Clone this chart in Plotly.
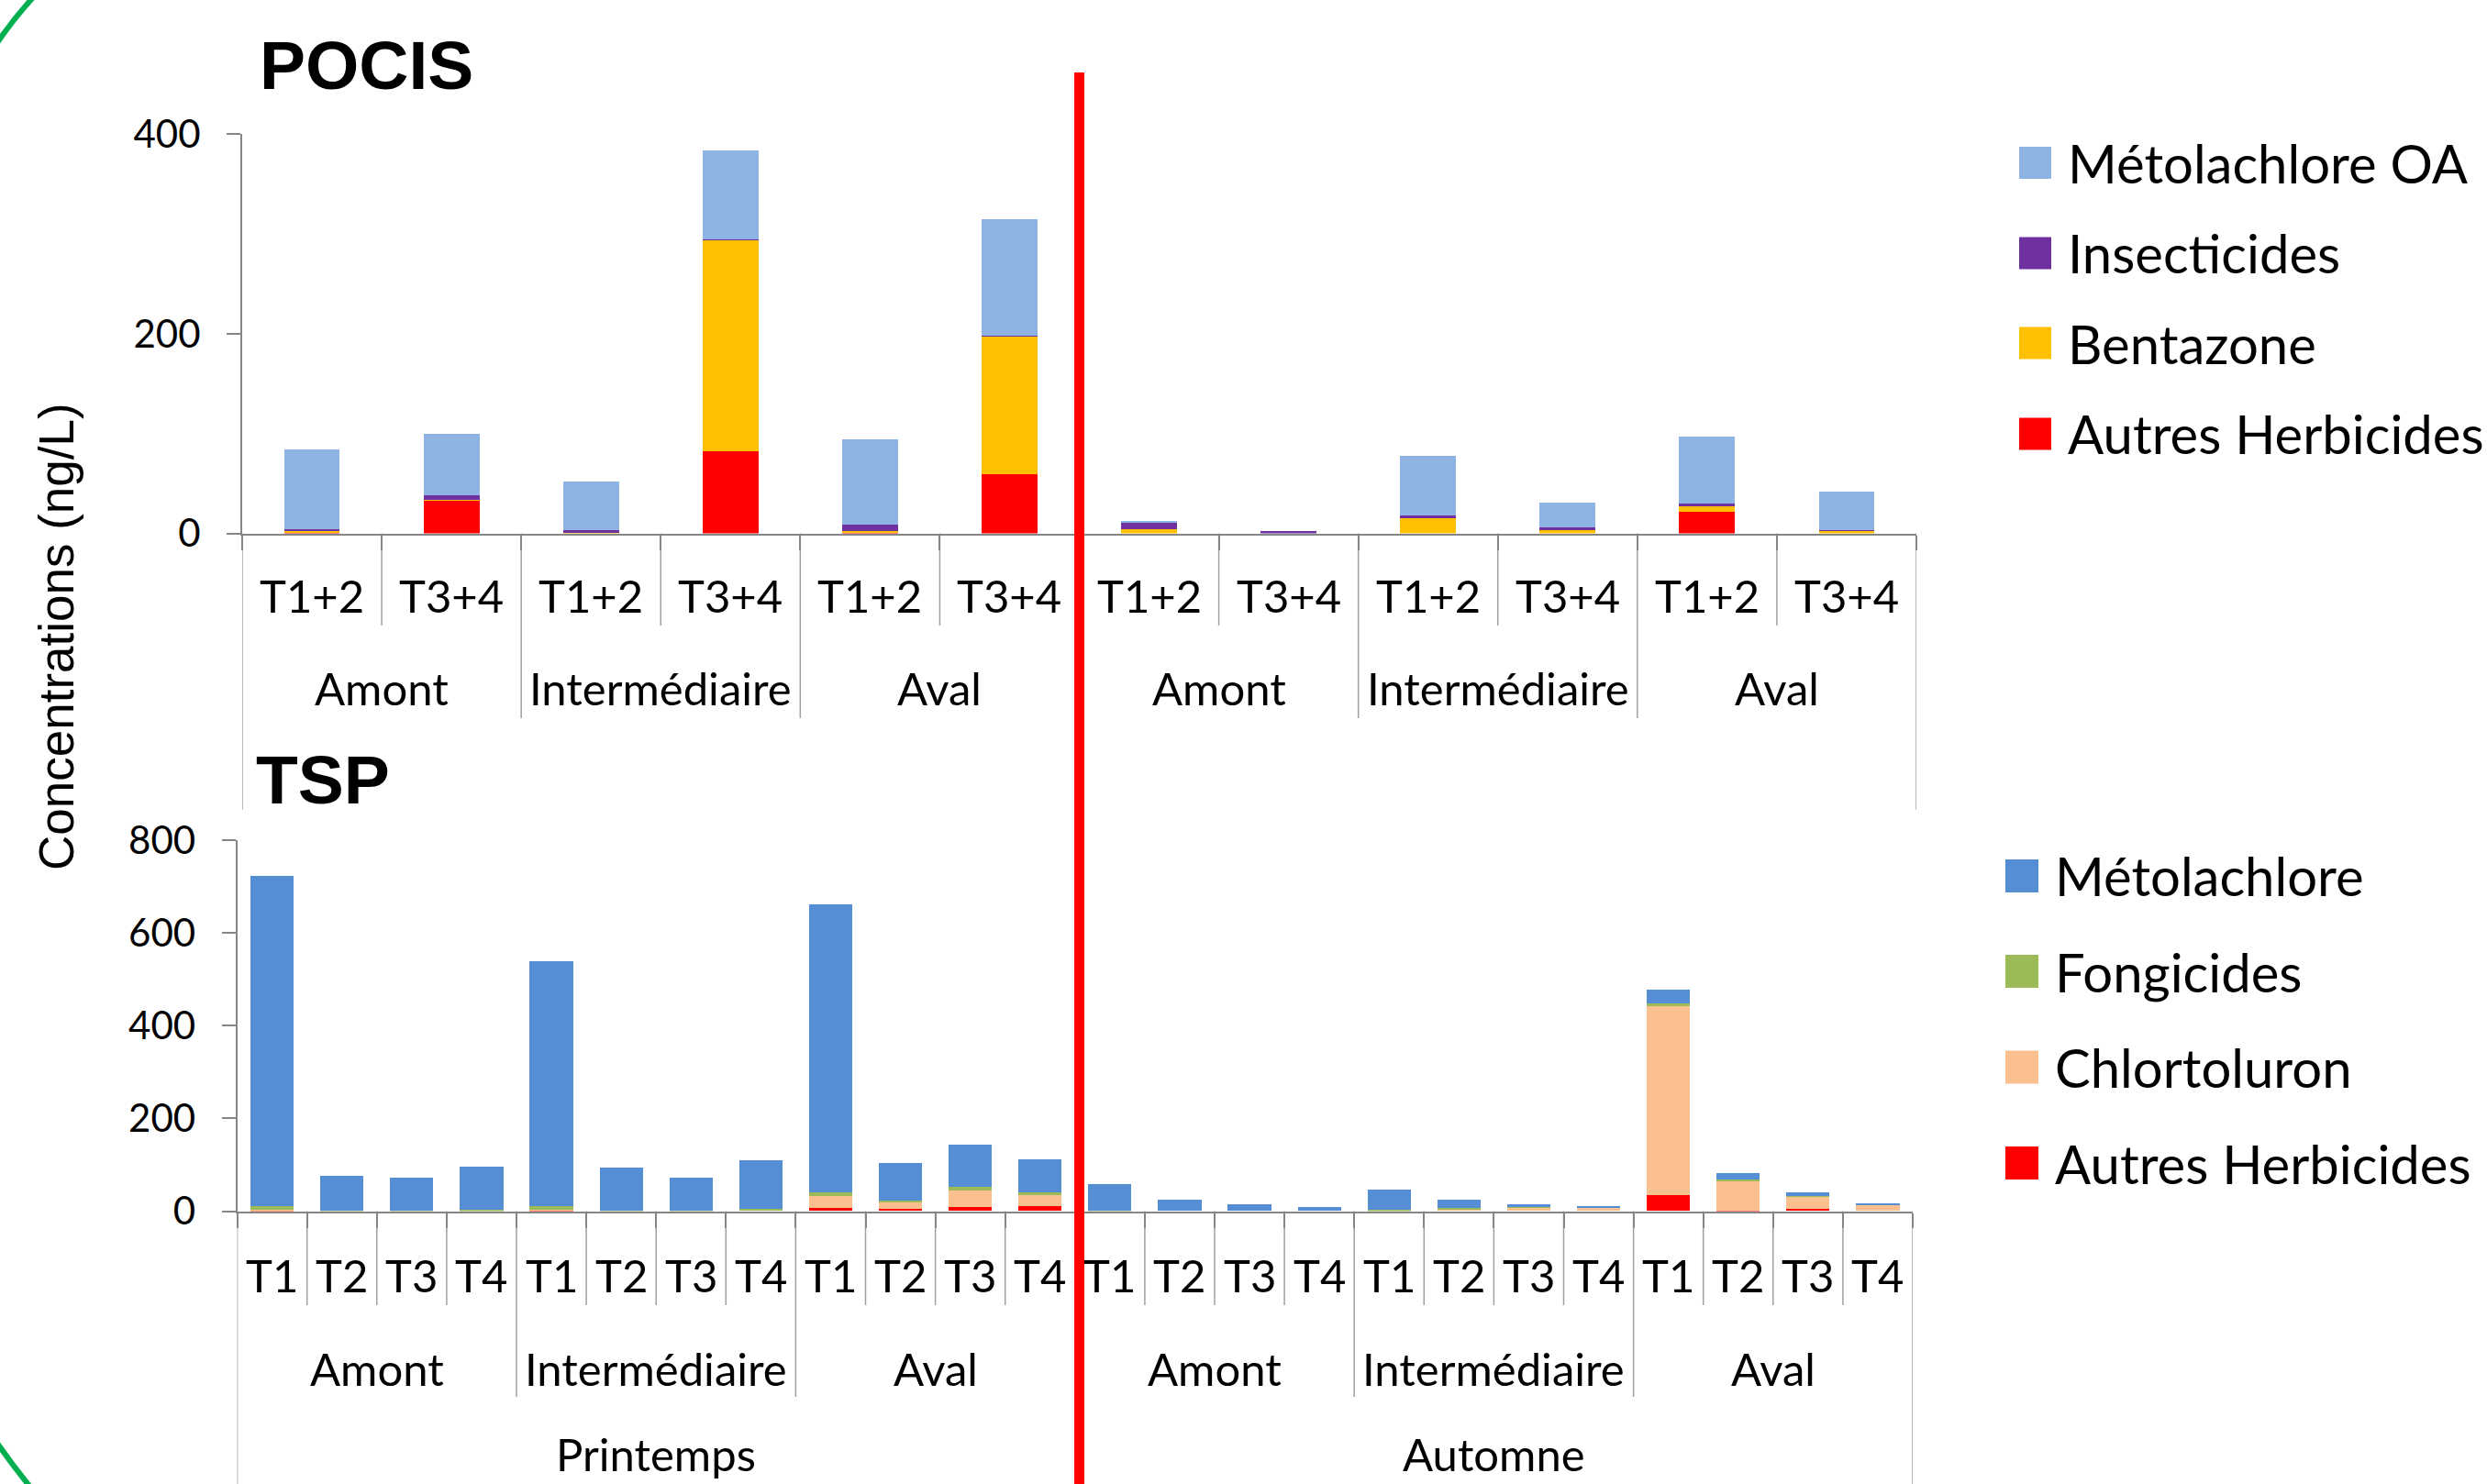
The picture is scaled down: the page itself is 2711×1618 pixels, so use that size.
import plotly.graph_objects as go

W, H = 2711, 1618

# ---------------- data ----------------
seasons = ["Printemps", "Automne"]
sites = ["Amont", "Intermédiaire", "Aval"]
pocis_periods = ["T1+2", "T3+4"]
tsp_periods = ["T1", "T2", "T3", "T4"]

# POCIS (ng/L) - order: season > site > period
pocis_autres_herbicides = [0.5, 33, 0, 82, 0.5, 59, 0, 0, 0, 0, 22, 0]
pocis_bentazone = [2, 0.5, 0.5, 211.5, 2, 138, 4.5, 0, 15, 3.5, 4.7, 2.5]
pocis_insecticides = [1.5, 4.5, 2.5, 1.5, 6.5, 1, 6.5, 2.5, 3, 2.5, 3, 1]
pocis_metolachlore_oa = [80.5, 61.5, 48.5, 88.5, 85.5, 117, 1, 0, 59.5, 24.5, 67, 38]

# TSP (ng/L) - order: season > site > period
tsp_autres_herbicides = [0.5, 0, 0, 0, 1, 0, 0, 0, 7, 4, 9, 11,
                         0, 0, 0, 0, 0, 0, 0, 0, 34, 1, 5, 0]
tsp_chlortoluron = [1.5, 0, 0, 0, 1, 0, 0, 0, 25, 16, 35, 23,
                    0, 0, 0, 0, 0, 4, 7, 8, 408, 65, 26, 13]
tsp_fongicides = [8, 1, 1, 2, 9, 1, 1, 5, 9, 3, 8, 6,
                  1, 0, 0, 0, 3, 2.5, 2, 0, 6, 2.5, 2.5, 0.5]
tsp_metolachlore = [713, 76, 71, 94.5, 529, 93.5, 71, 104.5, 621, 80.5, 90.5, 72,
                    57.5, 24.5, 14.5, 9, 43, 19, 5.5, 2.5, 29.5, 13, 7, 2.5]

pocis_series = [  # stacked bottom -> top
    ("Autres Herbicides", pocis_autres_herbicides, "#FF0000"),
    ("Bentazone", pocis_bentazone, "#FFC000"),
    ("Insecticides", pocis_insecticides, "#7030A0"),
    ("Métolachlore OA", pocis_metolachlore_oa, "#8EB4E3"),
]
tsp_series = [  # stacked bottom -> top
    ("Autres Herbicides", tsp_autres_herbicides, "#FF0000"),
    ("Chlortoluron", tsp_chlortoluron, "#FAC090"),
    ("Fongicides", tsp_fongicides, "#9BBB59"),
    ("Métolachlore", tsp_metolachlore, "#558ED5"),
]

pocis_cats = [f"{s} · {g} · {p}" for s in seasons for g in sites for p in pocis_periods]
tsp_cats = [f"{s} · {g} · {p}" for s in seasons for g in sites for p in tsp_periods]

# ---------------- helpers (pixel -> paper) ----------------
def xp(px):
    return px / W


def yp(px):
    return 1 - px / H


LABEL_FONT = "Lato, Carlito, Calibri, sans-serif"
AXIS_GREY = "#868686"
SEP_GREY = "#A0A0A0"
CAT_SIZE = 49

fig = go.Figure()

for name, vals, col in pocis_series:
    fig.add_trace(go.Bar(
        x=pocis_cats, y=vals, name=name, marker=dict(color=col, line=dict(width=0)),
        width=0.4, xaxis="x", yaxis="y", showlegend=False,
    ))

for name, vals, col in tsp_series:
    fig.add_trace(go.Bar(
        x=tsp_cats, y=vals, name=name, marker=dict(color=col, line=dict(width=0)),
        width=0.62, xaxis="x2", yaxis="y2", showlegend=False,
    ))

# plot-area geometry (pixels)
P_X0, P_X1, P_Y0, P_YTOP = 264, 2089, 581.5, 146.3
T_X0, T_X1, T_Y0, T_YTOP = 258.6, 2085, 1320.5, 916.1

common_x = dict(
    type="category", showline=True, linecolor=AXIS_GREY, linewidth=2,
    ticks="outside", tickson="boundaries", ticklen=16, tickcolor=AXIS_GREY,
    tickwidth=2, showticklabels=False, showgrid=False, zeroline=False,
    automargin=False,
)
common_y = dict(
    showline=True, linecolor=AXIS_GREY, linewidth=2, ticks="outside",
    ticklen=15, tickcolor=AXIS_GREY, tickwidth=2, showgrid=False,
    zeroline=False, tickfont=dict(family=LABEL_FONT, size=42, color="black"),
    ticklabelstandoff=20, automargin=False,
)

fig.update_layout(
    template="none",
    width=W, height=H, autosize=False,
    margin=dict(l=0, r=0, t=0, b=0, pad=0, autoexpand=False),
    paper_bgcolor="white", plot_bgcolor="rgba(0,0,0,0)",
    barmode="stack", showlegend=False,
    xaxis=dict(common_x, domain=[xp(P_X0), xp(P_X1)], anchor="y",
               categoryorder="array", categoryarray=pocis_cats,
               range=[-0.5, len(pocis_cats) - 0.5]),
    yaxis=dict(common_y, domain=[yp(P_Y0), yp(P_YTOP)], anchor="x",
               range=[0, 400], tickvals=[0, 200, 400]),
    xaxis2=dict(common_x, domain=[xp(T_X0), xp(T_X1)], anchor="y2",
                categoryorder="array", categoryarray=tsp_cats,
                range=[-0.5, len(tsp_cats) - 0.5]),
    yaxis2=dict(common_y, domain=[yp(T_Y0), yp(T_YTOP)], anchor="x2",
                range=[0, 800], tickvals=[0, 200, 400, 600, 800]),
)

shapes = []
annotations = []


def hierarchy(xref, periods, axis_px, t_row, g_row, s_row, sep_bottoms, show_season):
    n_p = len(periods)
    n_g = n_p * len(sites)
    n = n_g * len(seasons)
    # separators between categories, longer at group / season boundaries
    for k in range(n + 1):
        if k % n_g == 0:
            bottom = sep_bottoms[2]
        elif k % n_p == 0:
            bottom = sep_bottoms[1]
        else:
            bottom = sep_bottoms[0]
        shapes.append(dict(type="line", xref=xref, yref="paper",
                           x0=k - 0.5, x1=k - 0.5, y0=yp(axis_px), y1=yp(bottom),
                           line=dict(color=SEP_GREY, width=1.5), layer="below"))
    # period labels
    for i in range(n):
        annotations.append(dict(xref=xref, yref="paper", x=i, y=yp(t_row),
                                text=periods[i % n_p], showarrow=False,
                                xanchor="center", yanchor="middle",
                                font=dict(family=LABEL_FONT, size=CAT_SIZE, color="black")))
    # site labels
    for j in range(n // n_p):
        annotations.append(dict(xref=xref, yref="paper", x=j * n_p + (n_p - 1) / 2,
                                y=yp(g_row), text=sites[j % len(sites)], showarrow=False,
                                xanchor="center", yanchor="middle",
                                font=dict(family=LABEL_FONT, size=CAT_SIZE, color="black")))
    # season labels
    if show_season:
        for s, season in enumerate(seasons):
            annotations.append(dict(xref=xref, yref="paper", x=s * n_g + (n_g - 1) / 2,
                                    y=yp(s_row), text=season, showarrow=False,
                                    xanchor="center", yanchor="middle",
                                    font=dict(family=LABEL_FONT, size=CAT_SIZE, color="black")))


hierarchy("x", pocis_periods, P_Y0, 649, 750, None, (682, 783, 883), False)
hierarchy("x2", tsp_periods, T_Y0, 1390, 1491.5, 1585, (1423, 1523, 1640), True)

# panel titles
annotations.append(dict(xref="paper", yref="paper", x=xp(281), y=yp(71), text="POCIS",
                        showarrow=False, xanchor="left", yanchor="middle",
                        font=dict(family="Liberation Sans, Arial, sans-serif", size=75,
                                  color="black", weight=700)))
annotations.append(dict(xref="paper", yref="paper", x=xp(277), y=yp(850), text="TSP",
                        showarrow=False, xanchor="left", yanchor="middle",
                        font=dict(family="Liberation Sans, Arial, sans-serif", size=75,
                                  color="black", weight=700)))

# shared y-axis title
annotations.append(dict(xref="paper", yref="paper", x=xp(61), y=yp(694),
                        text="Concentrations (ng/L)", textangle=-90, showarrow=False,
                        xanchor="center", yanchor="middle",
                        font=dict(family="Liberation Sans, Arial, sans-serif", size=53,
                                  color="black")))

# legends (top entry = top of the stack)
def legend(series, sw_x, text_x, rows, size=35):
    for (name, _, col), cy in zip(reversed(series), rows):
        shapes.append(dict(type="rect", xref="paper", yref="paper",
                           x0=xp(sw_x), x1=xp(sw_x + size),
                           y0=yp(cy + size / 2), y1=yp(cy - size / 2),
                           fillcolor=col, line=dict(width=0)))
        annotations.append(dict(xref="paper", yref="paper", x=xp(text_x), y=yp(cy),
                                text=name, showarrow=False, xanchor="left",
                                yanchor="middle",
                                font=dict(family=LABEL_FONT, size=58, color="black")))


legend(pocis_series, 2201, 2252, [177.5, 276, 374, 473])
legend(tsp_series, 2186, 2238, [955, 1059, 1163.5, 1268], size=36)

# season divider
shapes.append(dict(type="line", xref="x", yref="paper", x0=5.5, x1=5.5,
                   y0=yp(79), y1=-0.02, line=dict(color="#FF0000", width=11),
                   layer="above"))

# green frame arcs at the left edge
shapes.append(dict(type="path", xref="paper", yref="paper",
                   path=f"M {xp(-4)},{yp(48)} Q {xp(15)},{yp(20)} {xp(38)},{yp(-5)}",
                   line=dict(color="#00B050", width=6)))
shapes.append(dict(type="path", xref="paper", yref="paper",
                   path=f"M {xp(-4)},{yp(1572)} Q {xp(14)},{yp(1598)} {xp(36)},{yp(1625)}",
                   line=dict(color="#00B050", width=6)))

fig.update_layout(shapes=shapes, annotations=annotations)

fig.write_html("out.html")
